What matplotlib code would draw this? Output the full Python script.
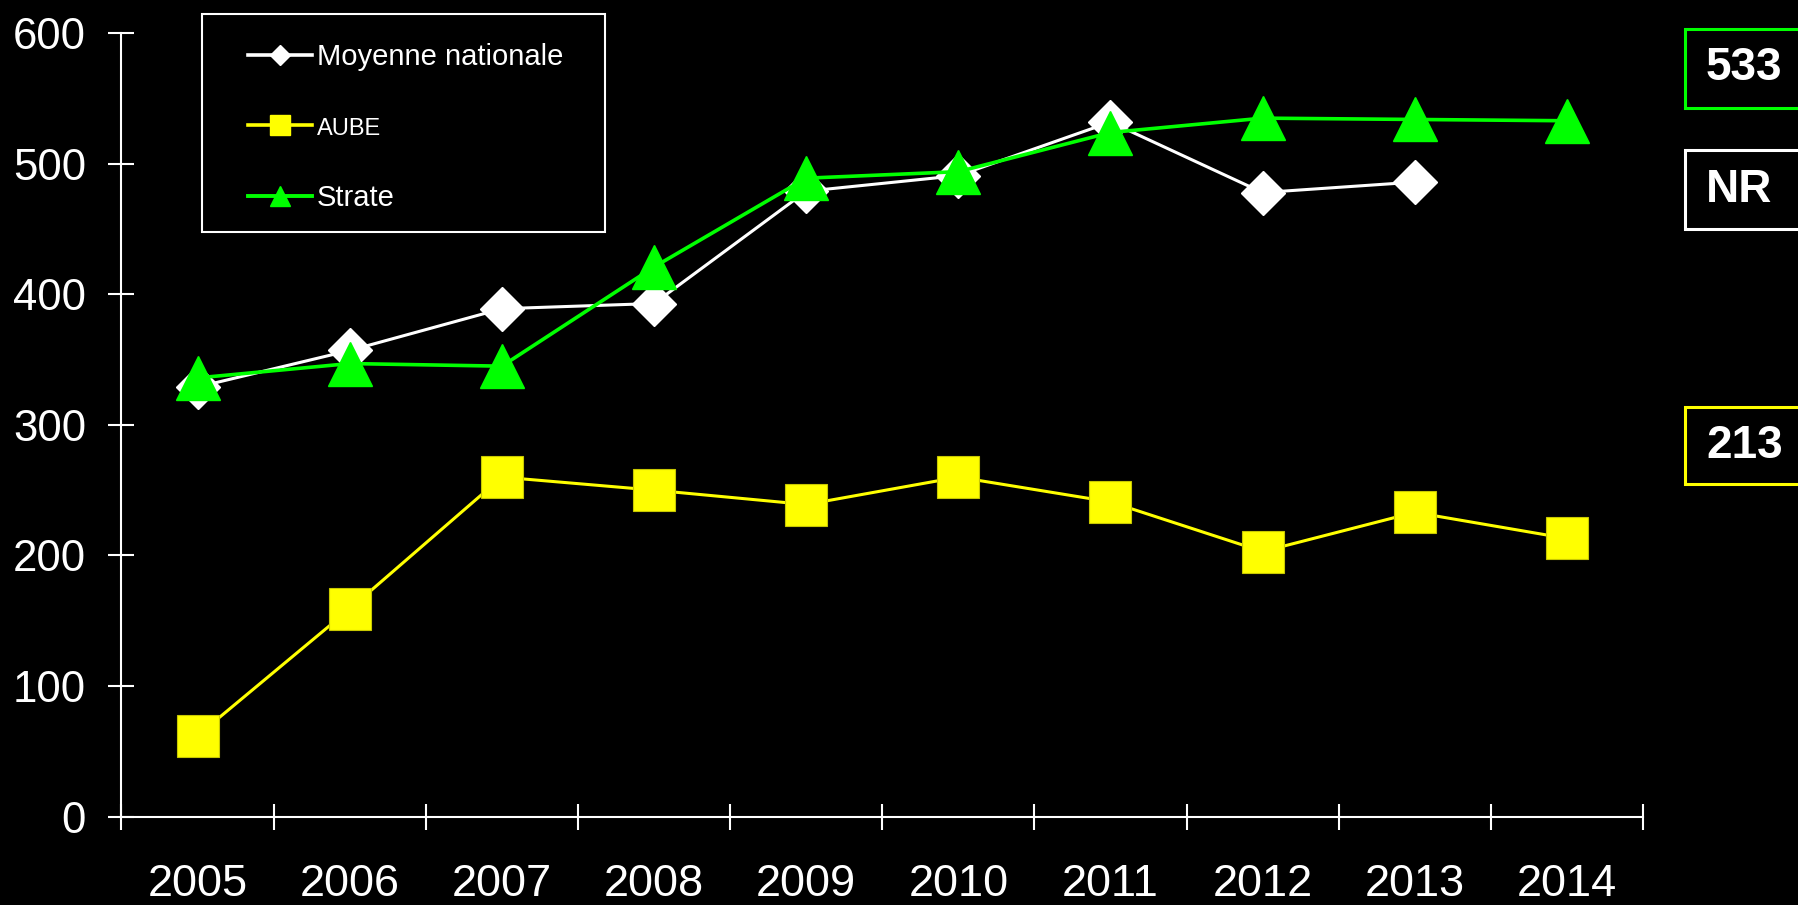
import numpy as np
import matplotlib
matplotlib.use("Agg")
import matplotlib.pyplot as plt
from matplotlib.lines import Line2D
from matplotlib.patches import Rectangle

plt.rcParams['font.family'] = ['Liberation Sans', 'DejaVu Sans']

# données
years = ['2005', '2006', '2007', '2008', '2009', '2010', '2011', '2012', '2013', '2014']
moyenne = [329, 357, 389, 393, 479, 491, 532, 478, 486, np.nan]
aube = [62, 159, 260, 250, 239, 260, 241, 203, 233, 213]
strate = [336, 347, 345, 421, 489, 494, 524, 535, 534, 533]
series_names = ['Moyenne nationale', 'AUBE', 'Strate']
yticks = [0, 100, 200, 300, 400, 500, 600]

W, H = 1798, 905
fig = plt.figure(figsize=(W / 100, H / 100), dpi=100, facecolor='black')
ax = fig.add_axes([121.5 / W, (H - 816.5) / H, (1643 - 121.5) / W, (816.5 - 33.3) / H])
ax.set_facecolor('black')

x = np.arange(len(years))
ax.plot(x, moyenne, color='white', lw=2.2, marker='D', markersize=22,
        markerfacecolor='white', markeredgecolor='white')
ax.plot(x, aube, color='#FFFF00', lw=2.2, marker='s', markersize=30,
        markerfacecolor='#FFFF00', markeredgecolor='#C8C800', markeredgewidth=0.8)
ax.plot(x, strate, color='#00FF00', lw=2.6, marker='^', markersize=32,
        markerfacecolor='#00FF00', markeredgecolor='#00FF00')

ax.set_xlim(-0.5, len(years) - 0.5)
ax.set_ylim(0, 600)
ax.set_yticks(yticks)
ax.set_xticks(np.arange(-0.5, len(years), 1))
ax.set_xticklabels([])
ax.set_xticks(x, minor=True)
ax.set_xticklabels(years, minor=True, fontsize=32.5)

for s in ['top', 'right']:
    ax.spines[s].set_visible(False)
for s in ['left', 'bottom']:
    ax.spines[s].set_color('white')
    ax.spines[s].set_linewidth(1.5)

ax.tick_params(axis='x', which='major', direction='inout', length=19, width=1.5,
               color='white', labelbottom=False)
ax.tick_params(axis='x', which='minor', length=0, pad=34.5, labelcolor='white')
ax.tick_params(axis='y', direction='inout', length=19, width=1.5, colors='white',
               labelsize=31.5, pad=16)

# légende
handles = [
    Line2D([], [], color='white', lw=2.6, marker='D', markersize=10),
    Line2D([], [], color='#FFFF00', lw=2.6, marker='s', markersize=14),
    Line2D([], [], color='#00FF00', lw=2.8, marker='^', markersize=15),
]
leg = ax.legend(handles, series_names, loc='upper left',
                bbox_to_anchor=(248 / W, 1 - 43 / H), bbox_transform=fig.transFigure,
                frameon=False, fontsize=21, handlelength=2.2, handletextpad=0.15,
                labelspacing=1.5, borderpad=0, borderaxespad=0)
for t in leg.get_texts():
    t.set_color('white')
leg.get_texts()[1].set_fontsize(17)
fig.patches.append(Rectangle((202 / W, 1 - 232 / H), 403 / W, 218 / H,
                             transform=fig.transFigure, fill=False,
                             edgecolor='white', lw=1.5))

# encadrés des dernières valeurs
last_strate = strate[-1]
last_moy = moyenne[-1]
last_aube = aube[-1]
boxes = [
    ('%d' % last_strate, '#00FF00', 29, 108),
    ('NR' if np.isnan(last_moy) else '%d' % last_moy, 'white', 150, 229),
    ('%d' % last_aube, '#FFFF00', 407, 484),
]
for txt, col, top, bot in boxes:
    fig.patches.append(Rectangle((1685 / W, 1 - bot / H), 140 / W, (bot - top) / H,
                                 transform=fig.transFigure, facecolor='black',
                                 edgecolor=col, lw=2.2))
    fig.text(1706 / W, 1 - (top + bot) / 2 / H, txt, color='white', fontsize=33,
             fontweight='bold', ha='left', va='center')

fig.savefig('out.png', dpi=100, facecolor='black')
